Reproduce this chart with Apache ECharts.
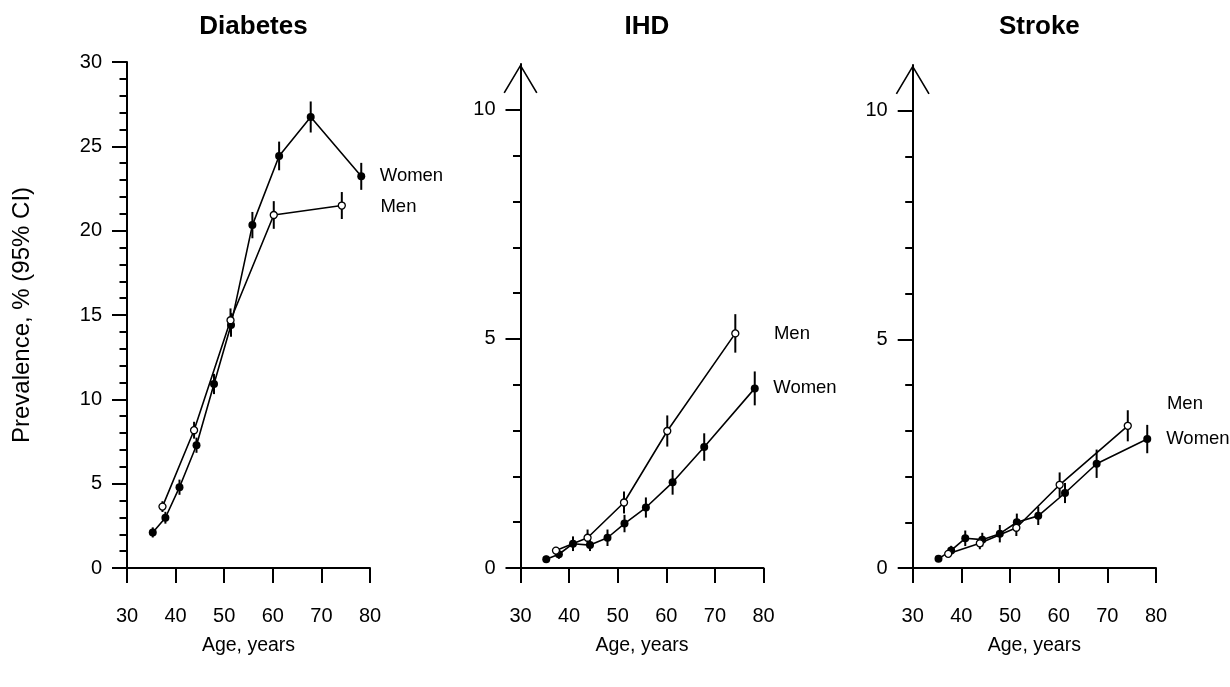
<!DOCTYPE html>
<html><head><meta charset="utf-8">
<script src="https://cdn.jsdelivr.net/npm/echarts@6/dist/echarts.min.js"></script>
<style>html,body{margin:0;padding:0;background:#fff}#c{width:1230px;height:687px}</style>
</head><body><div id="c"></div>
<script>
// ---- data ----
const panelTitles = ['Diabetes', 'IHD', 'Stroke'];
const xTickLabels = [30, 40, 50, 60, 70, 80];
const yMaxValues = [30, 11, 11];
const yMajorTicks = [[0, 5, 10, 15, 20, 25, 30], [0, 5, 10], [0, 5, 10]];

const ageWomen = [35.3, 37.9, 40.8, 44.3, 47.9, 51.4, 55.8, 61.3, 67.8, 78.2];
const ageMen = [37.3, 43.8, 51.3, 60.2, 74.2];

const diabetesWomen = [2.11, 2.98, 4.79, 7.28, 10.91, 14.41, 20.33, 24.43, 26.74, 23.22];
const diabetesWomenErr = [0.30, 0.35, 0.45, 0.45, 0.60, 0.70, 0.78, 0.85, 0.92, 0.80];
const diabetesMen = [3.64, 8.17, 14.69, 20.93, 21.49];
const diabetesMenErr = [0.32, 0.50, 0.70, 0.82, 0.80];

const ihdWomen = [0.19, 0.30, 0.53, 0.50, 0.66, 0.97, 1.32, 1.87, 2.64, 3.92];
const ihdWomenErr = [0.08, 0.10, 0.16, 0.13, 0.18, 0.19, 0.22, 0.27, 0.30, 0.37];
const ihdMen = [0.38, 0.66, 1.43, 2.99, 5.12];
const ihdMenErr = [0.08, 0.18, 0.24, 0.34, 0.42];

const strokeWomen = [0.20, 0.385, 0.65, 0.62, 0.75, 1.00, 1.14, 1.64, 2.28, 2.82];
const strokeWomenErr = [0.07, 0.10, 0.17, 0.15, 0.19, 0.19, 0.20, 0.22, 0.31, 0.31];
const strokeMen = [0.31, 0.54, 0.88, 1.82, 3.11];
const strokeMenErr = [0.07, 0.13, 0.18, 0.27, 0.34];

const seriesWomen = [diabetesWomen, ihdWomen, strokeWomen];
const seriesWomenErr = [diabetesWomenErr, ihdWomenErr, strokeWomenErr];
const seriesMen = [diabetesMen, ihdMen, strokeMen];
const seriesMenErr = [diabetesMenErr, ihdMenErr, strokeMenErr];

// ---- layout / style ----
const FONT = '"Liberation Sans", Arial, Helvetica, sans-serif';
const grids = [
  {left: 127, top: 62, width: 243, height: 506},
  {left: 520.5, top: 64, width: 243, height: 504},
  {left: 912.7, top: 65, width: 243.3, height: 503}
];
const arrowPath = 'path://M17 0 L34 28.5 L32.6 29.3 L17 3.1 L1.4 29.3 L0 28.5 Z';
const labelPos = [
  {women: {distance: 14.5, offset: [0, 0]}, men: {distance: 34.5, offset: [0, 1]}},
  {women: {distance: 14.5, offset: [0, 0]}, men: {distance: 34.5, offset: [0, 0]}},
  {women: {distance: 15, offset: [0, 0]}, men: {distance: 35, offset: [0, -22]}}
];

const chart = echarts.init(document.getElementById('c'), null, {renderer: 'canvas'});

const option = {
  animation: false,
  backgroundColor: '#fff',
  textStyle: {fontFamily: FONT},
  title: [],
  grid: [],
  xAxis: [],
  yAxis: [],
  series: []
};

function errRender(params, api) {
  const x = api.value(0), lo = api.value(1), hi = api.value(2);
  const p1 = api.coord([x, lo]);
  const p2 = api.coord([x, hi]);
  return {type: 'line', shape: {x1: p1[0], y1: p1[1], x2: p2[0], y2: p2[1]},
    style: {stroke: '#000', lineWidth: 2}};
}

for (let i = 0; i < 3; i++) {
  const g = grids[i];
  option.grid.push(Object.assign({containLabel: false}, g));
  option.title.push({
    text: panelTitles[i], left: g.left + g.width / 2, top: 9, textAlign: 'center',
    textStyle: {fontFamily: FONT, fontSize: 26, fontWeight: 'bold', color: '#000'}
  });
  option.xAxis.push({
    type: 'value', gridIndex: i, min: 30, max: 80, interval: 10,
    name: 'Age, years', nameLocation: 'middle', nameGap: 68,
    nameTextStyle: {fontFamily: FONT, fontSize: 19.5, color: '#000'},
    axisLine: {show: true, lineStyle: {color: '#000', width: 2}},
    axisTick: {show: true, length: 15, lineStyle: {color: '#000', width: 2}},
    axisLabel: {margin: 38, fontFamily: FONT, fontSize: 20, color: '#000',
      customValues: xTickLabels},
    splitLine: {show: false}
  });
  const yMax = yMaxValues[i];
  const major = yMajorTicks[i];
  const minor = [];
  for (let v = 1; v < major[major.length - 1]; v++) if (major.indexOf(v) < 0) minor.push(v);
  const hasArrow = i > 0;
  option.yAxis.push({
    type: 'value', gridIndex: i, min: 0, max: yMax, position: 'left',
    name: i === 0 ? 'Prevalence, % (95% CI)' : '',
    nameLocation: 'middle', nameGap: 93,
    nameTextStyle: {fontFamily: FONT, fontSize: 24, color: '#000'},
    axisLine: {show: true, lineStyle: {color: '#000', width: 2},
      symbol: hasArrow ? ['none', arrowPath] : ['none', 'none'],
      symbolSize: [34, 29.3], symbolOffset: [0, -14.65]},
    axisTick: {show: true, length: 15, lineStyle: {color: '#000', width: 2}, customValues: major},
    axisLabel: {margin: 25, fontFamily: FONT, fontSize: 20, color: '#000', customValues: major},
    splitLine: {show: false}
  });
  option.yAxis.push({
    type: 'value', gridIndex: i, min: 0, max: yMax, position: 'left', offset: 0,
    axisLine: {show: false},
    axisTick: {show: true, length: 7.5, lineStyle: {color: '#000', width: 2}, customValues: minor},
    axisLabel: {show: false},
    splitLine: {show: false}
  });

  const yIdx = 2 * i;
  const wv = seriesWomen[i], we = seriesWomenErr[i];
  const mv = seriesMen[i], me = seriesMenErr[i];

  option.series.push({
    type: 'custom', xAxisIndex: i, yAxisIndex: yIdx, renderItem: errRender, z: 1,
    encode: {x: 0, y: [1, 2]},
    data: ageWomen.map((a, k) => [a, wv[k] - we[k], wv[k] + we[k]])
  });
  option.series.push({
    type: 'custom', xAxisIndex: i, yAxisIndex: yIdx, renderItem: errRender, z: 1,
    encode: {x: 0, y: [1, 2]},
    data: ageMen.map((a, k) => [a, mv[k] - me[k], mv[k] + me[k]])
  });
  const lp = labelPos[i];
  option.series.push({
    type: 'line', name: 'Women', xAxisIndex: i, yAxisIndex: yIdx, z: 3,
    symbol: 'circle', symbolSize: 8,
    itemStyle: {color: '#000'},
    lineStyle: {color: '#000', width: 1.6},
    label: {show: false},
    data: ageWomen.map((a, k) => k === ageWomen.length - 1 ?
      {value: [a, wv[k]], label: {show: true, formatter: 'Women', position: 'right',
        distance: lp.women.distance, offset: lp.women.offset,
        fontFamily: FONT, fontSize: 18.5, color: '#000'}} : [a, wv[k]])
  });
  option.series.push({
    type: 'line', name: 'Men', xAxisIndex: i, yAxisIndex: yIdx, z: 3,
    symbol: 'circle', symbolSize: 7,
    itemStyle: {color: '#fff', borderColor: '#000', borderWidth: 1.3},
    lineStyle: {color: '#000', width: 1.6},
    label: {show: false},
    data: ageMen.map((a, k) => k === ageMen.length - 1 ?
      {value: [a, mv[k]], label: {show: true, formatter: 'Men', position: 'right',
        distance: lp.men.distance, offset: lp.men.offset,
        fontFamily: FONT, fontSize: 18.5, color: '#000'}} : [a, mv[k]])
  });
}

chart.setOption(option);
</script>
</body></html>
